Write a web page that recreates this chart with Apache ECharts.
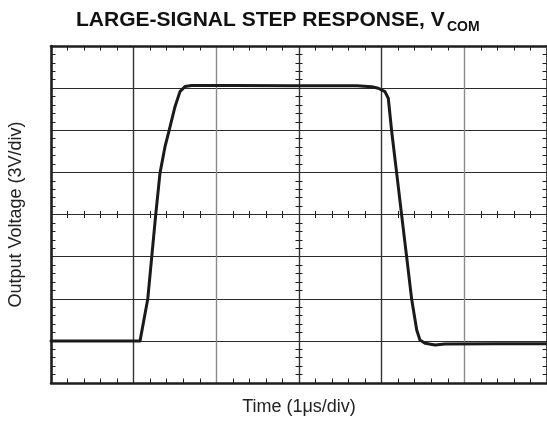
<!DOCTYPE html>
<html>
<head>
<meta charset="utf-8">
<script src="https://cdn.jsdelivr.net/npm/echarts@6/dist/echarts.min.js"></script>
<style>
html,body{margin:0;padding:0;background:#fff;}
#chart{width:547px;height:422px;}
</style>
</head>
<body>
<div id="chart"></div>
<script>
// Time in microseconds (1 µs/div), output voltage in volts (3 V/div)
const timeUs = [0, 1.077, 1.170, 1.218, 1.266, 1.318, 1.379, 1.427, 1.500, 1.560, 1.621, 1.702, 2.2, 2.9, 3.5, 3.70, 3.88, 3.959, 4.040, 4.080, 4.121, 4.182, 4.242, 4.303, 4.363, 4.424, 4.463, 4.524, 4.645, 4.766, 5.4, 6.0];
const voltage = [-9.0, -9.0, -6.04, -3.05, -0.06, 2.93, 4.83, 5.93, 7.68, 8.75, 9.12, 9.18, 9.18, 9.17, 9.17, 9.17, 9.1, 8.99, 8.75, 8.28, 5.93, 2.93, -0.06, -3.05, -6.04, -8.23, -8.94, -9.17, -9.29, -9.22, -9.2, -9.2];

const xMin = 0, xMax = 6, xStep = 1;
const yMin = -12, yMax = 12, yStep = 3;
const xTitle = 'Time (1\u03BCs/div)';
const yTitle = 'Output Voltage (3V/div)';
const titleMain = 'LARGE-SIGNAL STEP RESPONSE, V';
const titleSub = 'COM';

const FONT = 'Liberation Sans, Arial, Helvetica, sans-serif';
const INK = '#1e1e1e';
const vGridColors = ['#222', '#333', '#8a8a8a', '#333', '#333', '#8a8a8a', '#222'];

const GRID = {left: 51, top: 46, right: 0, bottom: 39};
const plotW = 547 - GRID.left - GRID.right;
const plotH = 422 - GRID.top - GRID.bottom;

function frameX(pos, extra) {
  return Object.assign({
    type: 'value', min: xMin, max: xMax, interval: xStep, position: pos,
    axisLine: {show: true, onZero: false, lineStyle: {color: INK, width: 2.5}},
    axisTick: {show: false, inside: true},
    minorTick: {show: true, splitNumber: 5, length: 4.5, lineStyle: {color: INK, width: 1}},
    axisLabel: {show: false},
    splitLine: {show: false}
  }, extra || {});
}
function frameY(pos, extra) {
  return Object.assign({
    type: 'value', min: yMin, max: yMax, interval: yStep, position: pos,
    axisLine: {show: true, onZero: false, lineStyle: {color: INK, width: 2.5}},
    axisTick: {show: false, inside: true},
    minorTick: {show: true, splitNumber: 5, length: 4.5, lineStyle: {color: INK, width: 1}},
    axisLabel: {show: false},
    splitLine: {show: false}
  }, extra || {});
}
function centerX(inside) {
  return frameX('bottom', {
    offset: -plotH / 2,
    axisLine: {show: false, onZero: false},
    axisTick: {show: false, inside: inside},
    minorTick: {show: true, splitNumber: 5, length: 3.5, lineStyle: {color: INK, width: 1}}
  });
}
function centerY(inside) {
  return frameY('left', {
    offset: -plotW / 2,
    axisLine: {show: false, onZero: false},
    axisTick: {show: false, inside: inside},
    minorTick: {show: true, splitNumber: 5, length: 3.5, lineStyle: {color: INK, width: 1}}
  });
}

const chart = echarts.init(document.getElementById('chart'), null, {renderer: 'canvas'});
chart.setOption({
  animation: false,
  backgroundColor: '#fff',
  title: [
    {text: titleMain, left: 76, top: 10, padding: 0,
     textStyle: {fontFamily: FONT, fontWeight: 'bold', fontSize: 21, color: '#111'}},
    {text: titleSub, left: 447, top: 20, padding: 0,
     textStyle: {fontFamily: FONT, fontWeight: 'bold', fontSize: 14, color: '#111'}}
  ],
  grid: Object.assign({containLabel: false, outerBoundsMode: 'none'}, GRID),
  xAxis: [
    frameX('bottom', {
      name: xTitle, nameLocation: 'middle', nameGap: 15,
      nameTextStyle: {fontFamily: FONT, fontSize: 18, color: '#222'},
      splitLine: {show: true, lineStyle: {color: vGridColors, width: 1.4}}
    }),
    frameX('top'),
    centerX(true),
    centerX(false)
  ],
  yAxis: [
    frameY('left', {
      name: yTitle, nameLocation: 'middle', nameGap: 26, nameRotate: 90,
      nameTextStyle: {fontFamily: FONT, fontSize: 18, color: '#222'},
      splitLine: {show: true, lineStyle: {color: '#2a2a2a', width: 1.2}}
    }),
    frameY('right'),
    centerY(true),
    centerY(false)
  ],
  series: [{
    type: 'line',
    xAxisIndex: 0, yAxisIndex: 0,
    data: timeUs.map((t, i) => [t, voltage[i]]),
    showSymbol: false,
    smooth: false,
    lineStyle: {color: '#1a1a1a', width: 3, join: 'round', cap: 'round'},
    z: 5
  }]
});
</script>
</body>
</html>
